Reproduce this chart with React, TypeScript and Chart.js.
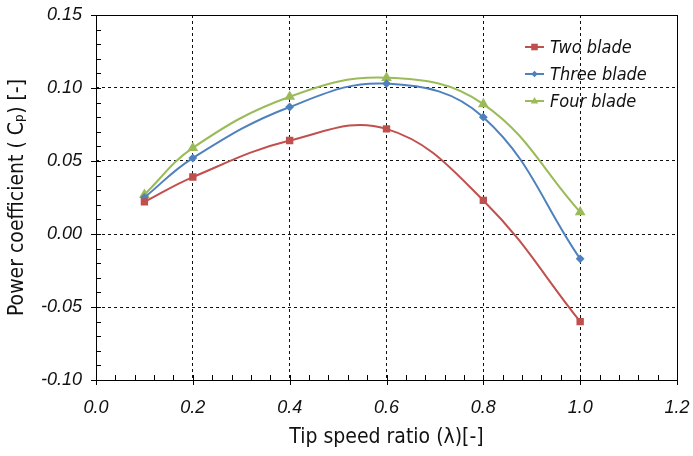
import React, { useEffect, useRef } from "react";
import { Chart, registerables } from "chart.js";

Chart.register(...registerables);

const tsr = [0.1, 0.2, 0.4, 0.6, 0.8, 1.0];
const twoBlade = [0.022, 0.039, 0.064, 0.072, 0.023, -0.06];
const threeBlade = [0.025, 0.052, 0.087, 0.103, 0.08, -0.017];
const fourBlade = [0.027, 0.059, 0.094, 0.107, 0.089, 0.015];
const seriesNames = ["Two blade", "Three blade", "Four blade"];
const xTicks = [0, 0.2, 0.4, 0.6, 0.8, 1.0, 1.2];
const yTicks = [-0.1, -0.05, 0, 0.05, 0.1, 0.15];
const xTitle = "Tip speed ratio (λ)[-]";
const yTitle = "Power coefficient ( Cₚ) [-]";

const FAMILY = '"DejaVu Sans", "Liberation Sans", sans-serif';
const TICKFONT = '"Liberation Sans", sans-serif';

const colors = ["#C0504D", "#4F81BD", "#9BBB59"];
const styles: any[] = ["rect", "rectRot", "triangle"];
const radii = [3.8, 3, 4.2];

function marker(ctx: CanvasRenderingContext2D, style: string, r: number, x: number, y: number) {
  ctx.beginPath();
  if (style === "rect") {
    ctx.rect(x - r, y - r, 2 * r, 2 * r);
  } else if (style === "rectRot") {
    ctx.moveTo(x, y - r * 1.3);
    ctx.lineTo(x + r * 1.3, y);
    ctx.lineTo(x, y + r * 1.3);
    ctx.lineTo(x - r * 1.3, y);
    ctx.closePath();
  } else {
    ctx.moveTo(x, y - r * 1.1);
    ctx.lineTo(x + r, y + r * 0.7);
    ctx.lineTo(x - r, y + r * 0.7);
    ctx.closePath();
  }
  ctx.fill();
}

function condensed(ctx: any) {
  try {
    ctx.fontStretch = "condensed";
  } catch (e) {}
}

const framePlugin = {
  id: "frame",
  afterDraw(chart: any) {
    const { ctx, chartArea: a } = chart;
    const xs = chart.scales.x;
    const ys = chart.scales.y;
    ctx.save();
    ctx.strokeStyle = "#000";
    ctx.lineWidth = 1;
    ctx.setLineDash([]);
    ctx.strokeRect(Math.round(a.left) + 0.5, Math.round(a.top) + 0.5, Math.round(a.right - a.left), Math.round(a.bottom - a.top));
    ctx.beginPath();
    for (let i = 0; i <= 30; i++) {
      const v = i * 0.04;
      const px = Math.round(xs.getPixelForValue(v)) + 0.5;
      const major = i % 5 === 0;
      ctx.moveTo(px, a.bottom - 5);
      ctx.lineTo(px, a.bottom + (major ? 5 : 0));
    }
    for (let i = 0; i <= 25; i++) {
      const v = -0.1 + i * 0.01;
      const py = Math.round(ys.getPixelForValue(v)) + 0.5;
      const major = i % 5 === 0;
      ctx.moveTo(a.left + 5, py);
      ctx.lineTo(a.left - (major ? 5 : 0), py);
    }
    ctx.stroke();

    // axis titles
    ctx.fillStyle = "#111";
    ctx.textAlign = "center";
    ctx.textBaseline = "middle";
    ctx.font = `21px ${FAMILY}`;
    condensed(ctx);
    ctx.fillText(xTitle, xs.getPixelForValue(0.6), 438);
    ctx.save();
    ctx.translate(18, ys.getPixelForValue(0.025));
    ctx.rotate(-Math.PI / 2);
    ctx.fillText(yTitle, 0, 0);
    ctx.restore();

    // legend
    const lx = a.left + 429;
    let ly = a.top + 32;
    ctx.font = `italic 18px ${FAMILY}`;
    condensed(ctx);
    ctx.textBaseline = "middle";
    ctx.textAlign = "left";
    chart.data.datasets.forEach((ds: any, i: number) => {
      ctx.strokeStyle = colors[i];
      ctx.lineWidth = 2;
      ctx.beginPath();
      ctx.moveTo(lx, ly);
      ctx.lineTo(lx + 19, ly);
      ctx.stroke();
      ctx.fillStyle = colors[i];
      marker(ctx, styles[i], radii[i] - 0.5, lx + 9.5, ly);
      ctx.fillStyle = "#111";
      ctx.fillText(ds.label, lx + 25, ly + 1);
      ly += 27;
    });
    ctx.restore();
  },
};

export default function App() {
  const ref = useRef<HTMLCanvasElement>(null);
  useEffect(() => {
    const series = [twoBlade, threeBlade, fourBlade];
    const chart = new Chart(ref.current!, {
      type: "line",
      data: {
        datasets: series.map((s, i) => ({
          label: seriesNames[i],
          data: tsr.map((x, j) => ({ x, y: s[j] })),
          borderColor: colors[i],
          backgroundColor: colors[i],
          borderWidth: 2,
          pointStyle: styles[i],
          pointRadius: radii[i],
          pointBorderColor: colors[i],
          pointBackgroundColor: colors[i],
          tension: 0.4,
          cubicInterpolationMode: "default",
          fill: false,
        })),
      },
      options: {
        animation: false,
        responsive: false,
        layout: { padding: { top: 15, right: 16, left: 0, bottom: 0 } },
        plugins: { legend: { display: false }, tooltip: { enabled: false } },
        scales: {
          x: {
            type: "linear",
            min: 0,
            max: 1.2,
            afterBuildTicks: (s: any) => {
              s.ticks = xTicks.map((v) => ({ value: v }));
            },
            afterFit: (s: any) => {
              s.height = 76;
              s.paddingLeft = 0;
              s.paddingRight = 0;
            },
            border: { display: false, dash: [3, 3] },
            grid: {
              color: (c: any) => (c.tick && c.tick.value > 0.01 && c.tick.value < 1.19 ? "#111" : "rgba(0,0,0,0)"),
              lineWidth: 1,
              drawTicks: false,
            },
            ticks: {
              padding: 17,
              color: "#111",
              font: { family: TICKFONT, size: 18, style: "italic" },
              callback: (v: any) => Number(v).toFixed(1),
            },
          },
          y: {
            type: "linear",
            min: -0.1,
            max: 0.15,
            afterBuildTicks: (s: any) => {
              s.ticks = yTicks.map((v) => ({ value: v }));
            },
            afterFit: (s: any) => {
              s.width = 96;
              s.paddingTop = 0;
              s.paddingBottom = 0;
            },
            border: { display: false, dash: [3, 3] },
            grid: {
              color: (c: any) => (c.tick && c.tick.value > -0.099 && c.tick.value < 0.149 ? "#111" : "rgba(0,0,0,0)"),
              lineWidth: 1,
              drawTicks: false,
            },
            ticks: {
              padding: 14,
              color: "#111",
              font: { family: TICKFONT, size: 18, style: "italic" },
              callback: (v: any) => Number(v).toFixed(2),
            },
          },
        },
      } as any,
      plugins: [framePlugin],
    });
    return () => chart.destroy();
  }, []);
  return (
    <div style={{ position: "absolute", left: 0, top: 0, width: 693, height: 456, background: "#fff" }}>
      <canvas ref={ref} width={693} height={456} style={{ width: 693, height: 456 }} />
    </div>
  );
}
